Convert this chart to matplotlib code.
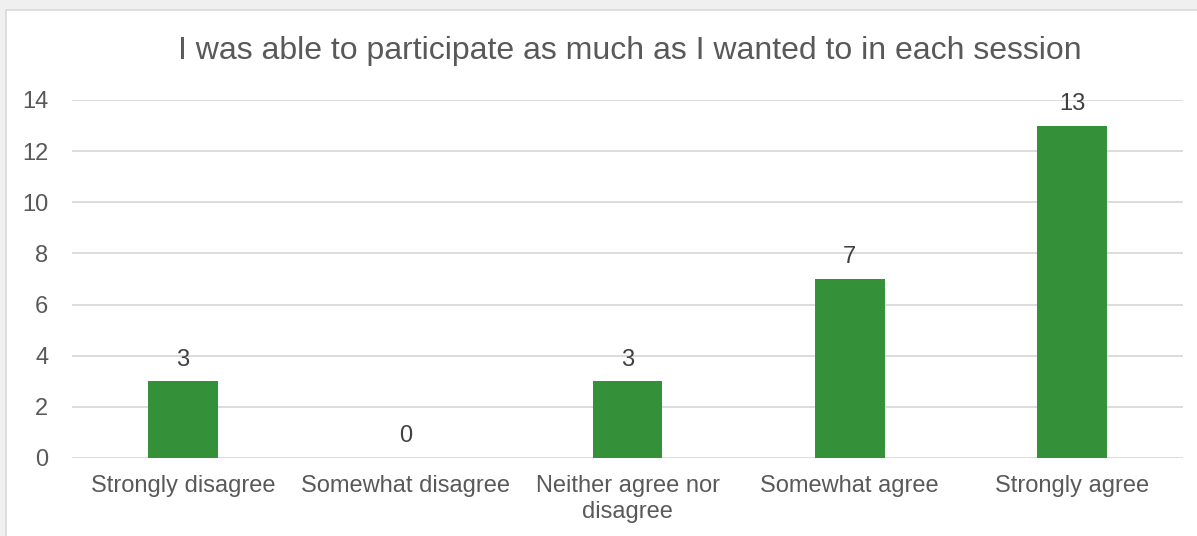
import matplotlib.pyplot as plt
from matplotlib.patches import Rectangle

categories = ['Strongly disagree', 'Somewhat disagree', 'Neither agree nor\ndisagree',
              'Somewhat agree', 'Strongly agree']
counts = [3, 0, 3, 7, 13]
yticks = [0, 2, 4, 6, 8, 10, 12, 14]
title = 'I was able to participate as much as I wanted to in each session'

plt.rcParams['font.family'] = ['Liberation Sans', 'DejaVu Sans']

fig = plt.figure(figsize=(11.97, 5.36), dpi=100)
fig.patch.set_facecolor('#f0f0f0')
# white chart area with thin border, kept behind the axes
fig.patches.append(Rectangle((6 / 1197, -0.05), 1.1, 1 - 10 / 536 + 0.05,
                             transform=fig.transFigure, facecolor='white',
                             edgecolor='#d9d9d9', linewidth=1.2, zorder=-5))

ax = fig.add_axes([72 / 1197, 1 - 458 / 536, (1183 - 72) / 1197, (458 - 100) / 536])
ax.set_facecolor('none')
ax.set_zorder(2)

x = range(len(categories))
bars = ax.bar(x, counts, width=0.315, color='#34913a', zorder=3)
for xi, v in zip(x, counts):
    ax.text(xi, v + 0.42, str(v), ha='center', va='bottom', fontsize=17, color='#404040')

ax.set_xlim(-0.5, 4.5)
ax.set_ylim(0, 14)
ax.set_yticks(yticks)
ax.set_xticks(list(x))
ax.set_xticklabels(categories, fontsize=17, color='#595959', linespacing=1.25)
ax.tick_params(axis='y', labelsize=17, labelcolor='#595959', length=0, pad=17)
ax.tick_params(axis='x', length=0, pad=12)
ax.grid(axis='y', color='#d9d9d9', linewidth=1.3, zorder=0)
for s in ax.spines.values():
    s.set_visible(False)

fig.text(630 / 1197, 1 - 51 / 536, title, ha='center', va='center',
         fontsize=23, color='#595959', zorder=3)

fig.savefig('out.png', dpi=100)
